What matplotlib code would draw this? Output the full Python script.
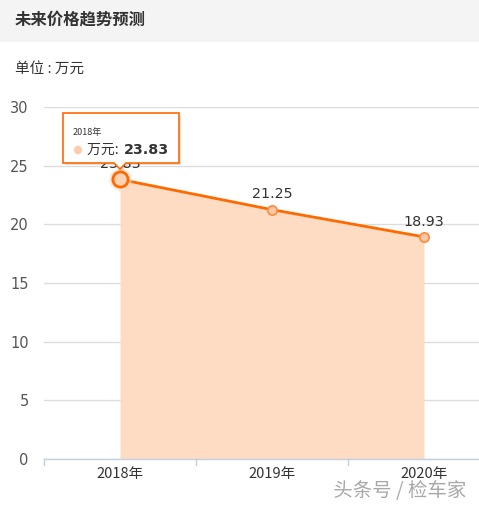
import matplotlib
matplotlib.use("Agg")
import matplotlib.pyplot as plt
from matplotlib.patches import Polygon, Rectangle
import matplotlib.patheffects as pe

years = ["2018年", "2019年", "2020年"]
prices = [23.83, 21.25, 18.93]
yticks = [0, 5, 10, 15, 20, 25, 30]
title = "未来价格趋势预测"
unit_label = "单位 : 万元"
series_name = "万元"
watermark = "头条号 / 检车家"

W, H = 479, 509
CJK = ["Noto Sans CJK SC", "DejaVu Sans"]
plt.rcParams["font.family"] = CJK

fig = plt.figure(figsize=(W / 100, H / 100), dpi=100)
fig.patch.set_facecolor("white")

def fx(px):
    return px / W

def fy(py):
    return 1 - py / H

# header band
fig.patches.append(Rectangle((0, fy(42)), 1, 42 / H, transform=fig.transFigure,
                             facecolor="#f4f4f4", edgecolor="none", zorder=0))
fig.text(fx(15), fy(20), title, fontsize=11.8, fontweight="bold", color="#333333",
         va="center", ha="left")
fig.text(fx(15), fy(69), unit_label, fontsize=10.5, color="#333333", va="center", ha="left")

ax = fig.add_axes([fx(44), fy(459), fx(500) - fx(44), fy(107) - fy(459)])
x = list(range(len(years)))
ax.set_xlim(-0.5, 2.5)
ax.set_ylim(0, 30)

line_color = "#ff6a00"
fill_color = "#fedcc4"
ax.fill_between(x, prices, 0, color=fill_color, linewidth=0, zorder=1)
ax.plot(x, prices, color=line_color, linewidth=2, zorder=3)
# halo on hovered point
ax.scatter([x[0]], [prices[0]], s=260, color="#fedcc4", alpha=0.6, zorder=3.5, linewidths=0)
ax.scatter(x[1:], prices[1:], s=45, facecolor="#fcc8a6", edgecolor="#ff8a3d",
           linewidths=1.2, zorder=4)
ax.scatter([x[0]], [prices[0]], s=120, facecolor="#fdd3b6", edgecolor=line_color,
           linewidths=2, zorder=4)

for xi, v in zip(x, prices):
    ax.annotate(f"{v:.2f}", (xi, v), xytext=(0, 6), textcoords="offset points",
                ha="center", va="bottom", fontsize=10.3, color="#333333",
                family=["DejaVu Sans"], zorder=5)

ax.set_yticks(yticks)
ax.set_yticklabels([str(t) for t in yticks], fontsize=10.5, color="#555555",
                   family=["DejaVu Sans"])
ax.grid(axis="y", color="#dddddd", linewidth=1)
ax.set_axisbelow(True)
ax.set_xticks(x)
ax.set_xticklabels(years, fontsize=10.5, color="#333333")
ax.tick_params(axis="y", length=0, pad=11)
ax.tick_params(axis="x", length=0, pad=6)
for b in [-0.5, 0.5, 1.5]:
    ax.plot([b, b], [0, -0.5], color="#c2d0e0", linewidth=1, clip_on=False, zorder=2)
for s in ["top", "right", "left"]:
    ax.spines[s].set_visible(False)
ax.spines["bottom"].set_color("#c2d0e0")
ax.spines["bottom"].set_linewidth(1)

# tooltip
pts = [(63, 113), (179, 113), (179, 163), (126, 163), (120, 169), (114, 163), (63, 163)]
shadow = Polygon([(fx(px + 2), fy(py + 2)) for px, py in pts], closed=True,
                 transform=fig.transFigure, facecolor="#000000", alpha=0.12,
                 edgecolor="none", zorder=10)
box = Polygon([(fx(px), fy(py)) for px, py in pts], closed=True,
              transform=fig.transFigure, facecolor="white", edgecolor=line_color,
              linewidth=1.2, zorder=11)
fig.patches.extend([shadow, box])
fig.text(fx(73), fy(133), years[0], fontsize=6.5, color="#333333", va="center",
         ha="left", zorder=12)
fig.patches.append(plt.Circle((fx(78), fy(150)), 4 / W, transform=fig.transFigure,
                              facecolor="#fdcbaa", edgecolor="none", zorder=12))
fig.text(fx(87), fy(150), f"{series_name}: ", fontsize=10, color="#333333",
         va="center", ha="left", zorder=12)
fig.text(fx(124), fy(150), f"{prices[0]:.2f}", fontsize=10.3, fontweight="bold",
         color="#333333", va="center", ha="left", family=["DejaVu Sans"], zorder=12)

# watermark
fig.text(fx(400), fy(491), watermark, fontsize=14, color="#a8a8a8", va="center",
         ha="center", zorder=12, fontweight="light",
         path_effects=[pe.withStroke(linewidth=2, foreground="white")])

fig.savefig("out.png", dpi=100, facecolor="white")
